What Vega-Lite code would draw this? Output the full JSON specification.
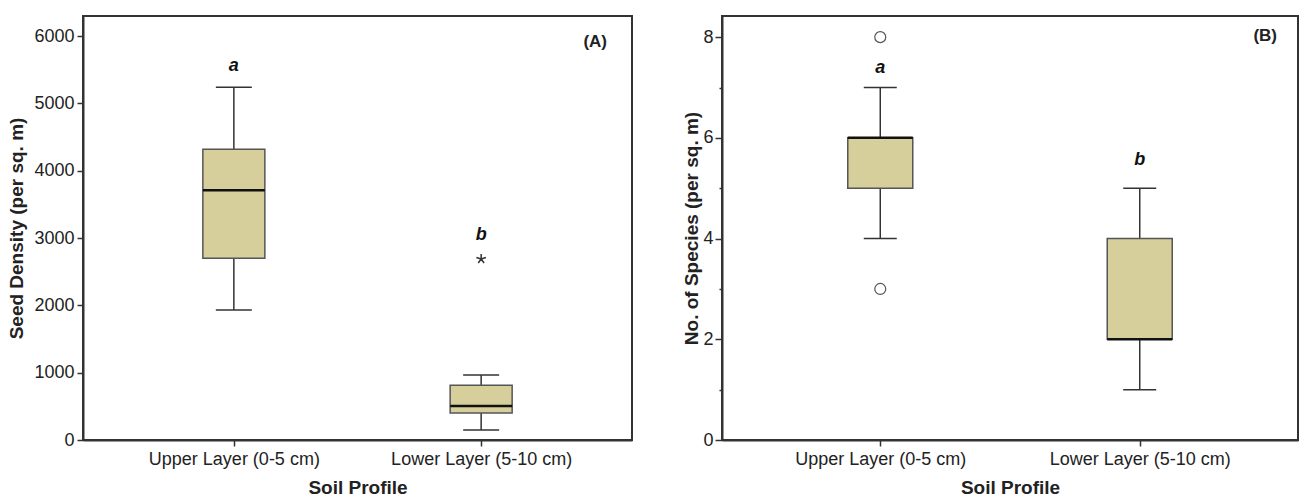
{
  "$schema": "https://vega.github.io/schema/vega-lite/v6.json",
  "padding": {"left": 6, "top": 15, "right": 0, "bottom": 0},
  "background": "white",
  "datasets": {
    "boxA": [
      {"layer": "Upper Layer (0-5 cm)", "lower": 1930, "q1": 2700, "median": 3710, "q3": 4320, "upper": 5240},
      {"layer": "Lower Layer (5-10 cm)", "lower": 150, "q1": 400, "median": 505, "q3": 815, "upper": 965}
    ],
    "outA": [
      {"layer": "Lower Layer (5-10 cm)", "value": 2690}
    ],
    "letA": [
      {"layer": "Upper Layer (0-5 cm)", "value": 5560, "letter": "a"},
      {"layer": "Lower Layer (5-10 cm)", "value": 3040, "letter": "b"}
    ],
    "boxB": [
      {"layer": "Upper Layer (0-5 cm)", "lower": 4, "q1": 5, "median": 6, "q3": 6, "upper": 7},
      {"layer": "Lower Layer (5-10 cm)", "lower": 1, "q1": 2, "median": 2, "q3": 4, "upper": 5}
    ],
    "outB": [
      {"layer": "Upper Layer (0-5 cm)", "value": 8},
      {"layer": "Upper Layer (0-5 cm)", "value": 3}
    ],
    "letB": [
      {"layer": "Upper Layer (0-5 cm)", "value": 7.38, "letter": "a"},
      {"layer": "Lower Layer (5-10 cm)", "value": 5.56, "letter": "b"}
    ]
  },
  "config": {
    "font": "Liberation Sans",
    "view": {"stroke": "#333", "strokeWidth": 2},
    "axis": {
      "grid": false,
      "labelFont": "Liberation Sans",
      "titleFont": "Liberation Sans",
      "labelFontSize": 18,
      "titleFontSize": 19,
      "titleFontWeight": "bold",
      "labelColor": "#222",
      "titleColor": "#222",
      "tickColor": "#333",
      "domainColor": "#333",
      "domainWidth": 2,
      "tickWidth": 1.5,
      "labelLimit": 0
    },
    "title": {"font": "Liberation Sans", "fontSize": 17, "fontWeight": "bold", "color": "#222"}
  },
  "spacing": 48,
  "hconcat": [
    {
      "width": 549,
      "height": 424,
      "title": {"text": "(A)", "anchor": "end", "frame": "group", "offset": -35, "dx": -25},
      "layer": [
        {
          "data": {"name": "boxA"},
          "mark": {"type": "rule", "color": "#333", "strokeWidth": 1.5},
          "encoding": {
            "x": {
              "field": "layer", "type": "nominal",
              "scale": {"type": "point", "padding": 0.61, "domain": ["Upper Layer (0-5 cm)", "Lower Layer (5-10 cm)"]},
              "axis": {"labelAngle": 0, "tickSize": 6, "labelPadding": 4, "titlePadding": 10},
              "title": "Soil Profile"
            },
            "y": {
              "field": "lower", "type": "quantitative",
              "scale": {"domain": [0, 6300], "nice": false, "zero": true},
              "axis": {
                "values": [0, 500, 1000, 1500, 2000, 2500, 3000, 3500, 4000, 4500, 5000, 5500, 6000],
                "labelExpr": "datum.value % 1000 === 0 ? datum.label : ''",
                "format": "d",
                "labelOverlap": false,
                "tickSize": {"condition": {"test": "datum.value % 1000 === 0", "value": 6}, "value": 3},
                "labelPadding": 3,
                "titlePadding": 7
              },
              "title": "Seed Density (per sq. m)"
            },
            "y2": {"field": "upper"}
          }
        },
        {
          "data": {"name": "boxA"},
          "mark": {"type": "bar", "size": 62, "fill": "#d6cf9c", "stroke": "#555", "strokeWidth": 1.5},
          "encoding": {
            "x": {"field": "layer", "type": "nominal"},
            "y": {"field": "q1", "type": "quantitative"},
            "y2": {"field": "q3"}
          }
        },
        {
          "data": {"name": "boxA"},
          "mark": {"type": "tick", "size": 62, "thickness": 2.5, "color": "#111", "opacity": 1},
          "encoding": {
            "x": {"field": "layer", "type": "nominal"},
            "y": {"field": "median", "type": "quantitative"}
          }
        },
        {
          "data": {"name": "boxA"},
          "mark": {"type": "tick", "size": 36, "thickness": 1.5, "color": "#333", "opacity": 1},
          "encoding": {
            "x": {"field": "layer", "type": "nominal"},
            "y": {"field": "lower", "type": "quantitative"}
          }
        },
        {
          "data": {"name": "boxA"},
          "mark": {"type": "tick", "size": 36, "thickness": 1.5, "color": "#333", "opacity": 1},
          "encoding": {
            "x": {"field": "layer", "type": "nominal"},
            "y": {"field": "upper", "type": "quantitative"}
          }
        },
        {
          "data": {"name": "outA"},
          "mark": {"type": "point", "shape": "M0,0L0,-1M0,0L0.951,-0.309M0,0L0.588,0.809M0,0L-0.588,0.809M0,0L-0.951,-0.309", "filled": false, "stroke": "#333", "strokeWidth": 1.5, "size": 100, "opacity": 1},
          "encoding": {
            "x": {"field": "layer", "type": "nominal"},
            "y": {"field": "value", "type": "quantitative"}
          }
        },
        {
          "data": {"name": "letA"},
          "mark": {"type": "text", "fontSize": 18, "fontWeight": "bold", "fontStyle": "italic", "color": "#111", "baseline": "middle"},
          "encoding": {
            "x": {"field": "layer", "type": "nominal"},
            "y": {"field": "value", "type": "quantitative"},
            "text": {"field": "letter"}
          }
        }
      ]
    },
    {
      "width": 576,
      "height": 424,
      "title": {"text": "(B)", "anchor": "end", "frame": "group", "offset": -29, "dx": -21},
      "layer": [
        {
          "data": {"name": "boxB"},
          "mark": {"type": "rule", "color": "#333", "strokeWidth": 1.5},
          "encoding": {
            "x": {
              "field": "layer", "type": "nominal",
              "scale": {"type": "point", "padding": 0.61, "domain": ["Upper Layer (0-5 cm)", "Lower Layer (5-10 cm)"]},
              "axis": {"labelAngle": 0, "tickSize": 6, "labelPadding": 4, "titlePadding": 10},
              "title": "Soil Profile"
            },
            "y": {
              "field": "lower", "type": "quantitative",
              "scale": {"domain": [0, 8.42], "nice": false, "zero": true},
              "axis": {
                "values": [0, 1, 2, 3, 4, 5, 6, 7, 8],
                "labelExpr": "datum.value % 2 === 0 ? datum.label : ''",
                "format": "d",
                "labelOverlap": false,
                "tickSize": {"condition": {"test": "datum.value % 2 === 0", "value": 7}, "value": 3},
                "labelPadding": 2,
                "titlePadding": 1
              },
              "title": "No. of Species (per sq. m)"
            },
            "y2": {"field": "upper"}
          }
        },
        {
          "data": {"name": "boxB"},
          "mark": {"type": "bar", "size": 65, "fill": "#d6cf9c", "stroke": "#555", "strokeWidth": 1.5},
          "encoding": {
            "x": {"field": "layer", "type": "nominal"},
            "y": {"field": "q1", "type": "quantitative"},
            "y2": {"field": "q3"}
          }
        },
        {
          "data": {"name": "boxB"},
          "mark": {"type": "tick", "size": 65, "thickness": 2.5, "color": "#111", "opacity": 1},
          "encoding": {
            "x": {"field": "layer", "type": "nominal"},
            "y": {"field": "median", "type": "quantitative"}
          }
        },
        {
          "data": {"name": "boxB"},
          "mark": {"type": "tick", "size": 33, "thickness": 1.5, "color": "#333", "opacity": 1},
          "encoding": {
            "x": {"field": "layer", "type": "nominal"},
            "y": {"field": "lower", "type": "quantitative"}
          }
        },
        {
          "data": {"name": "boxB"},
          "mark": {"type": "tick", "size": 33, "thickness": 1.5, "color": "#333", "opacity": 1},
          "encoding": {
            "x": {"field": "layer", "type": "nominal"},
            "y": {"field": "upper", "type": "quantitative"}
          }
        },
        {
          "data": {"name": "outB"},
          "mark": {"type": "point", "shape": "circle", "filled": false, "stroke": "#555", "strokeWidth": 1.2, "size": 120, "opacity": 1},
          "encoding": {
            "x": {"field": "layer", "type": "nominal"},
            "y": {"field": "value", "type": "quantitative"}
          }
        },
        {
          "data": {"name": "letB"},
          "mark": {"type": "text", "fontSize": 18, "fontWeight": "bold", "fontStyle": "italic", "color": "#111", "baseline": "middle"},
          "encoding": {
            "x": {"field": "layer", "type": "nominal"},
            "y": {"field": "value", "type": "quantitative"},
            "text": {"field": "letter"}
          }
        }
      ]
    }
  ]
}
